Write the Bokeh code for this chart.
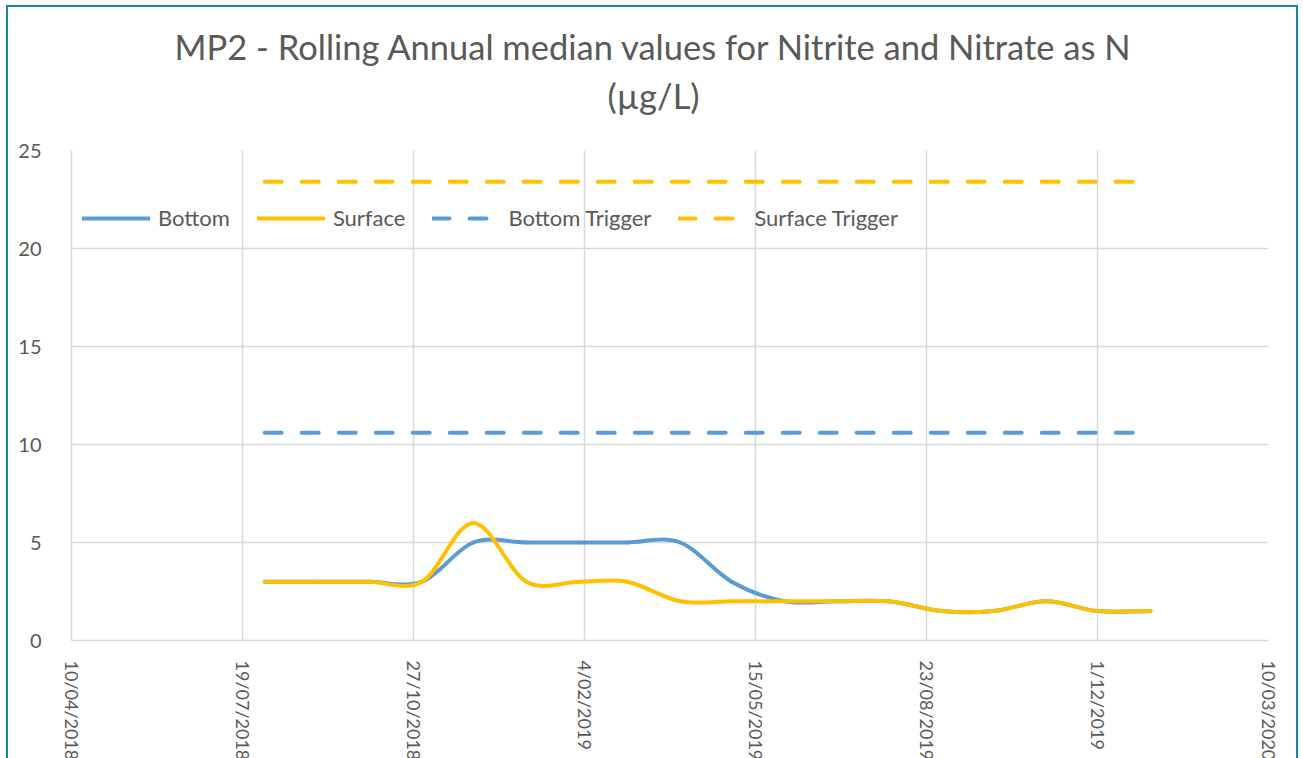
import math
import numpy as np
from bokeh.plotting import figure
from bokeh.models import (Range1d, FixedTicker, CustomJSTickFormatter, Legend,
                          LegendItem, ColumnDataSource, Title)
from bokeh.embed import file_html
from bokeh.resources import INLINE

# ---------------- data ----------------
dates = ["2018-08-01", "2018-09-01", "2018-10-01", "2018-11-01", "2018-12-01",
         "2019-01-01", "2019-02-01", "2019-03-01", "2019-04-01", "2019-05-01",
         "2019-06-01", "2019-07-01", "2019-08-01", "2019-09-01", "2019-10-01",
         "2019-11-01", "2019-12-01", "2020-01-01"]
bottom = [3, 3, 3, 3, 5, 5, 5, 5, 5, 3, 2, 2, 2, 1.5, 1.5, 2, 1.5, 1.5]
surface = [3, 3, 3, 3, 6, 3, 3, 3, 2, 2, 2, 2, 2, 1.5, 1.5, 2, 1.5, 1.5]
bottom_trigger = 10.6
surface_trigger = 23.4
tick_dates = ["2018-04-10", "2018-07-19", "2018-10-27", "2019-02-04",
              "2019-05-15", "2019-08-23", "2019-12-01", "2020-03-10"]
y_ticks = [0, 5, 10, 15, 20, 25]
title_line1 = "MP2 - Rolling Annual median values for Nitrite and Nitrate as N"
title_line2 = "(\u00b5g/L)"

TXT = "#595959"
GRID = "#d9d9d9"
BLUE = "#5b9bd5"
GOLD = "#ffc000"
FONT = "Lato"


def ms(d):
    return np.array(d, dtype="datetime64[ms]").astype("int64").astype(float)


x = ms(dates)
xt = ms(tick_dates)


def smooth_source(xs, ys):
    xs = np.asarray(xs, float)
    ys = np.asarray(ys, float)
    n = len(xs)
    i = np.arange(n - 1)
    pr = np.maximum(i - 1, 0)
    nx = np.minimum(i + 2, n - 1)
    return ColumnDataSource(dict(
        x0=xs[i], y0=ys[i], x1=xs[i + 1], y1=ys[i + 1],
        cx0=xs[i] + (xs[i + 1] - xs[pr]) / 6, cy0=ys[i] + (ys[i + 1] - ys[pr]) / 6,
        cx1=xs[i + 1] - (xs[nx] - xs[i]) / 6, cy1=ys[i + 1] - (ys[nx] - ys[i]) / 6,
    ))


p = figure(x_axis_type="datetime", frame_width=1197, frame_height=490,
           min_border_left=63, min_border_right=28, min_border_top=143,
           min_border_bottom=112, output_backend="svg", toolbar_location=None,
           x_range=Range1d(xt[0], xt[-1]), y_range=Range1d(0, 25))
p.styles = {"border-top": "2px solid #17879a", "border-left": "2px solid #17879a",
            "border-right": "2px solid #17879a",
            "margin-left": "6px", "margin-top": "5px"}
p.outline_line_color = None
p.background_fill_color = "white"
p.border_fill_color = "white"

HAS_STANDOFF = "standoff" in Title.properties()

# titles: the built-in title is outermost; the "above" list runs outward from the frame
p.title.text = title_line1
p.title.align = "left"
p.title.offset = 103
p.title.text_font = FONT
p.title.text_font_size = "34.5px"
p.title.text_font_style = "normal"
p.title.text_color = TXT
if HAS_STANDOFF:
    p.title.standoff = 1
p.add_layout(Title(text=" ", align="left", text_font=FONT,
                   text_font_size="15px", text_color="white"), "above")
p.add_layout(Title(text=title_line2, align="left", offset=536, text_font=FONT,
                   text_font_size="34.5px", text_font_style="normal",
                   text_color=TXT), "above")

# axes
p.xaxis.ticker = FixedTicker(ticks=list(xt))
p.xaxis.formatter = CustomJSTickFormatter(code="""
const d = new Date(tick);
return d.getUTCDate() + "/" + String(d.getUTCMonth() + 1).padStart(2, "0") + "/" + d.getUTCFullYear();
""")
p.xaxis.major_label_orientation = -math.pi / 2
p.yaxis.ticker = FixedTicker(ticks=y_ticks)
for ax in (p.xaxis[0], p.yaxis[0]):
    ax.major_tick_line_color = None
    ax.minor_tick_line_color = None
    ax.major_label_text_font = FONT
    ax.major_label_text_color = TXT
    ax.axis_line_color = GRID
    ax.axis_line_width = 1.5
p.xaxis.major_label_text_font_size = "18px"
p.yaxis.major_label_text_font_size = "20px"
p.xaxis.major_label_standoff = 14
p.yaxis.major_label_standoff = 24

p.xgrid.ticker = FixedTicker(ticks=list(xt))
p.ygrid.ticker = FixedTicker(ticks=y_ticks)
for g in (p.xgrid[0], p.ygrid[0]):
    g.grid_line_color = GRID
    g.grid_line_width = 1.5

# series
r_b = p.bezier(x0="x0", y0="y0", x1="x1", y1="y1", cx0="cx0", cy0="cy0",
               cx1="cx1", cy1="cy1", source=smooth_source(x, bottom),
               line_color=BLUE, line_width=4, line_cap="round")
r_s = p.bezier(x0="x0", y0="y0", x1="x1", y1="y1", cx0="cx0", cy0="cy0",
               cx1="cx1", cy1="cy1", source=smooth_source(x, surface),
               line_color=GOLD, line_width=4, line_cap="round")
r_bt = p.line([x[0], x[-1]], [bottom_trigger, bottom_trigger], line_color=BLUE,
              line_width=4, line_dash="17 20", line_cap="round")
r_st = p.line([x[0], x[-1]], [surface_trigger, surface_trigger], line_color=GOLD,
              line_width=4, line_dash="17 20", line_cap="round")

legend = Legend(items=[LegendItem(label="Bottom", renderers=[r_b]),
                       LegendItem(label="Surface", renderers=[r_s]),
                       LegendItem(label="Bottom Trigger", renderers=[r_bt]),
                       LegendItem(label="Surface Trigger", renderers=[r_st])],
                orientation="horizontal", location=(11, 409),
                glyph_width=68, glyph_height=20, label_height=20,
                label_standoff=8, spacing=27, padding=0, margin=0,
                border_line_color=None, background_fill_alpha=0,
                label_text_font=FONT, label_text_font_size="22px",
                label_text_color=TXT)
p.add_layout(legend)

open("out.html", "w").write(file_html(p, INLINE))
